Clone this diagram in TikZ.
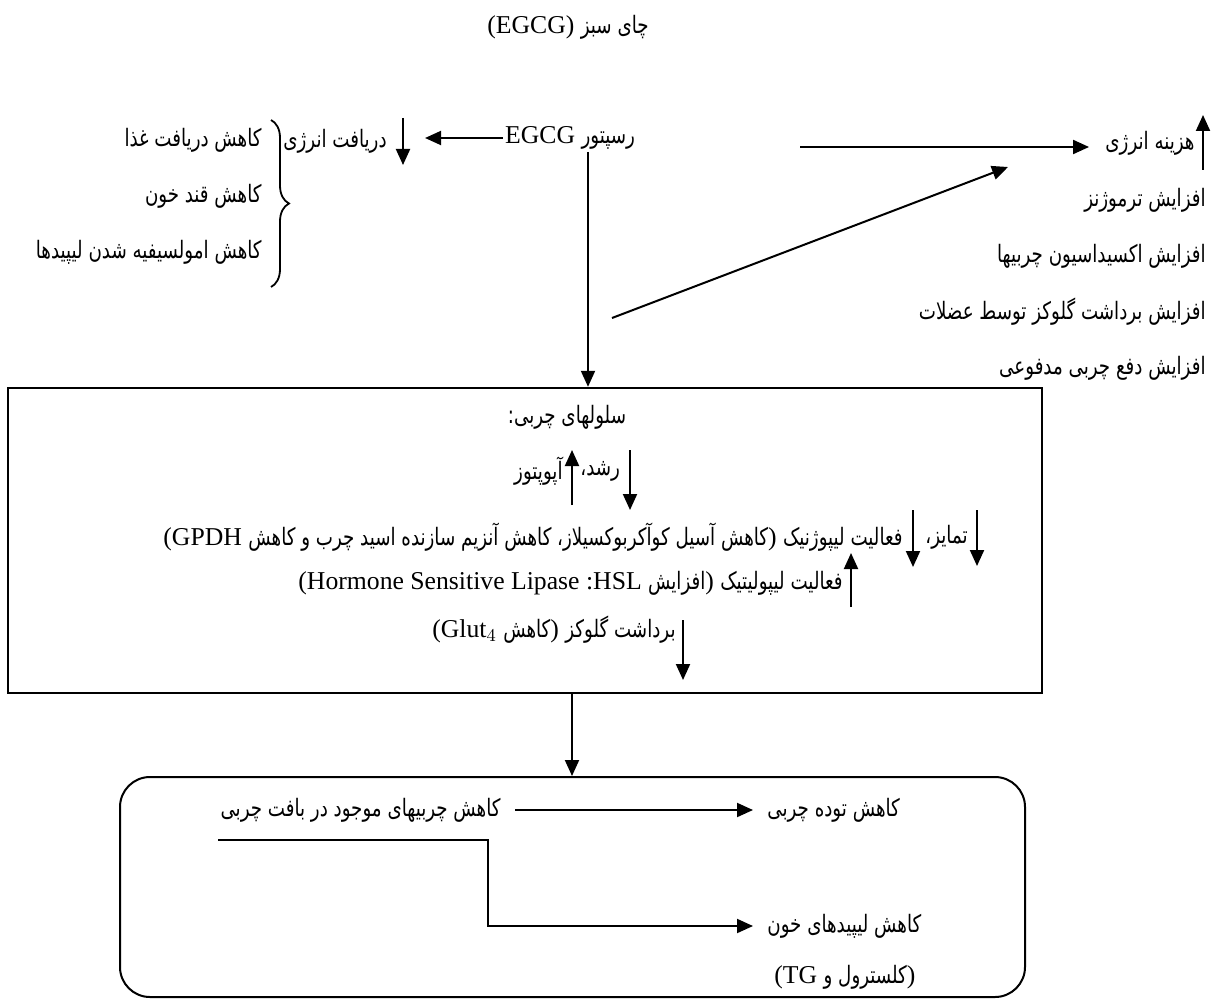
\documentclass[tikz,border=0pt]{standalone}
\usepackage{fontspec}
\setmainfont{Liberation Serif}
\newfontfamily\farsi[Script=Arabic,FakeStretch=0.76]{DejaVu Sans}
\TeXXeTstate=1
\usetikzlibrary{arrows.meta,decorations.pathreplacing}
\newcommand{\fa}[1]{{\farsi\fontsize{12}{14}\selectfont\beginR #1\endR}}
\tikzset{txt/.style={inner sep=1pt}}
\tikzset{conn/.style={line width=1pt,-{Triangle[length=8pt,width=7pt]}}}
\tikzset{cellbox/.style={draw,line width=1.2pt,minimum width=517pt,minimum height=152.5pt}}
\tikzset{resbox/.style={draw,line width=1pt,rounded corners=15pt,
                        minimum width=452.5pt,minimum height=110pt}}
\tikzset{curly/.style={decorate,decoration={brace,amplitude=9pt},line width=0.9pt}}

\begin{document}
\begin{tikzpicture}[x=0.5pt,y=-0.5pt,font=\fontsize{12.85}{15}\selectfont]
    \useasboundingbox (0,0) rectangle (1218,1000);
    \node[txt] (title) at (568,27) {(EGCG) \fa{چای سبز}};
    \node[txt] (rec) at (570,138) {EGCG \fa{رسپتور}};
    \node[txt] (intake) at (335,141) {\fa{دریافت انرژی}};
    \node[txt] (energy) at (1150,143) {\fa{هزینه انرژی}};
    \foreach \t [count=\i] in {کاهش دریافت غذا,کاهش قند خون,کاهش امولسیفیه شدن لیپیدها}{%
          \node[txt,anchor=east] (less\i) at (264,{84+56*\i}) {\fa{\t}};
        }
    \foreach \t [count=\i] in {افزایش ترموژنز,افزایش اکسیداسیون چربیها,افزایش برداشت گلوکز توسط عضلات,افزایش دفع چربی مدفوعی}{%
          \node[txt,anchor=east] (more\i) at (1208,{144+56*\i}) {\fa{\t}};
        }
    \draw[curly] (271,120) -- (271,287);

    \node[cellbox] (cells) at (525,540.5) {};
    \node[resbox] (result) at (572.5,887) {};

    % fat cells
    \node[txt] (fathead) at (567,417) {\fa{سلولهای چربی:}};
    \node[txt,anchor=east] (apop) at (565,471) {\fa{آپوپتوز}};
    \node[txt,anchor=west] (growth) at (578,471) {\fa{رشد،}};
    \node[txt,anchor=east] (diff) at (970,537) {\fa{تمایز،}};
    \node[txt,anchor=east] (lipo) at (905,537)
          {(GPDH \fa{کاهش آسیل کوآکربوکسیلاز، کاهش آنزیم سازنده اسید چرب و کاهش}) \fa{فعالیت لیپوژنیک}};
    \node[txt,anchor=east] (lipoly) at (845,583)
          {(Hormone Sensitive Lipase :HSL \fa{افزایش}) \fa{فعالیت لیپولیتیک}};
    \node[txt,anchor=east] (uptake) at (678,630)
          {(Glut$_4$ \fa{کاهش}) \fa{برداشت گلوکز}};

    % outcome
    \node[txt,anchor=east] (fatloss) at (503,810) {\fa{کاهش چربیهای موجود در بافت چربی}};
    \node[txt,anchor=west] (mass) at (765,810) {\fa{کاهش توده چربی}};
    \node[txt,anchor=west] (blood) at (765,926) {\fa{کاهش لیپیدهای خون}};
    \node[txt,anchor=west] (chol) at (772,977) {(TG \fa{کلسترول و})};

    % up / down marks
    \foreach \x/\a/\b in {403/118/165,1203/170/115,630/450/510,572/505/450,
                          977/510/566,913/510/567,851/607/553,683/620/680}{%
          \draw[conn] (\x,\a) -- (\x,\b);
        }

    \coordinate (hfrom) at (800,147);
    \coordinate (dfrom) at (612,318);
    \coordinate (dto) at (1008,167);
    \coordinate (bend) at (488,926);
    \draw[conn] (rec.west) -- ([xshift=18pt]intake.east |- rec.west);
    \draw[conn] (hfrom) -- ([xshift=-7pt]energy.west |- hfrom);
    \draw[conn] (dfrom) -- (dto);
    \draw[conn] ([xshift=9pt]rec.south) -- ([xshift=9pt]rec.south |- cells.north);
    \draw[conn] ([xshift=23.5pt]cells.south) -- ([xshift=23.5pt]cells.south |- result.north);
    \draw[conn] ([xshift=6pt]fatloss.east) -- ([xshift=-6pt]mass.west);
    \draw[conn] ([yshift=-8pt]fatloss.south west) -| (bend) -- ([xshift=-6pt]blood.west);
\end{tikzpicture}
\end{document}
